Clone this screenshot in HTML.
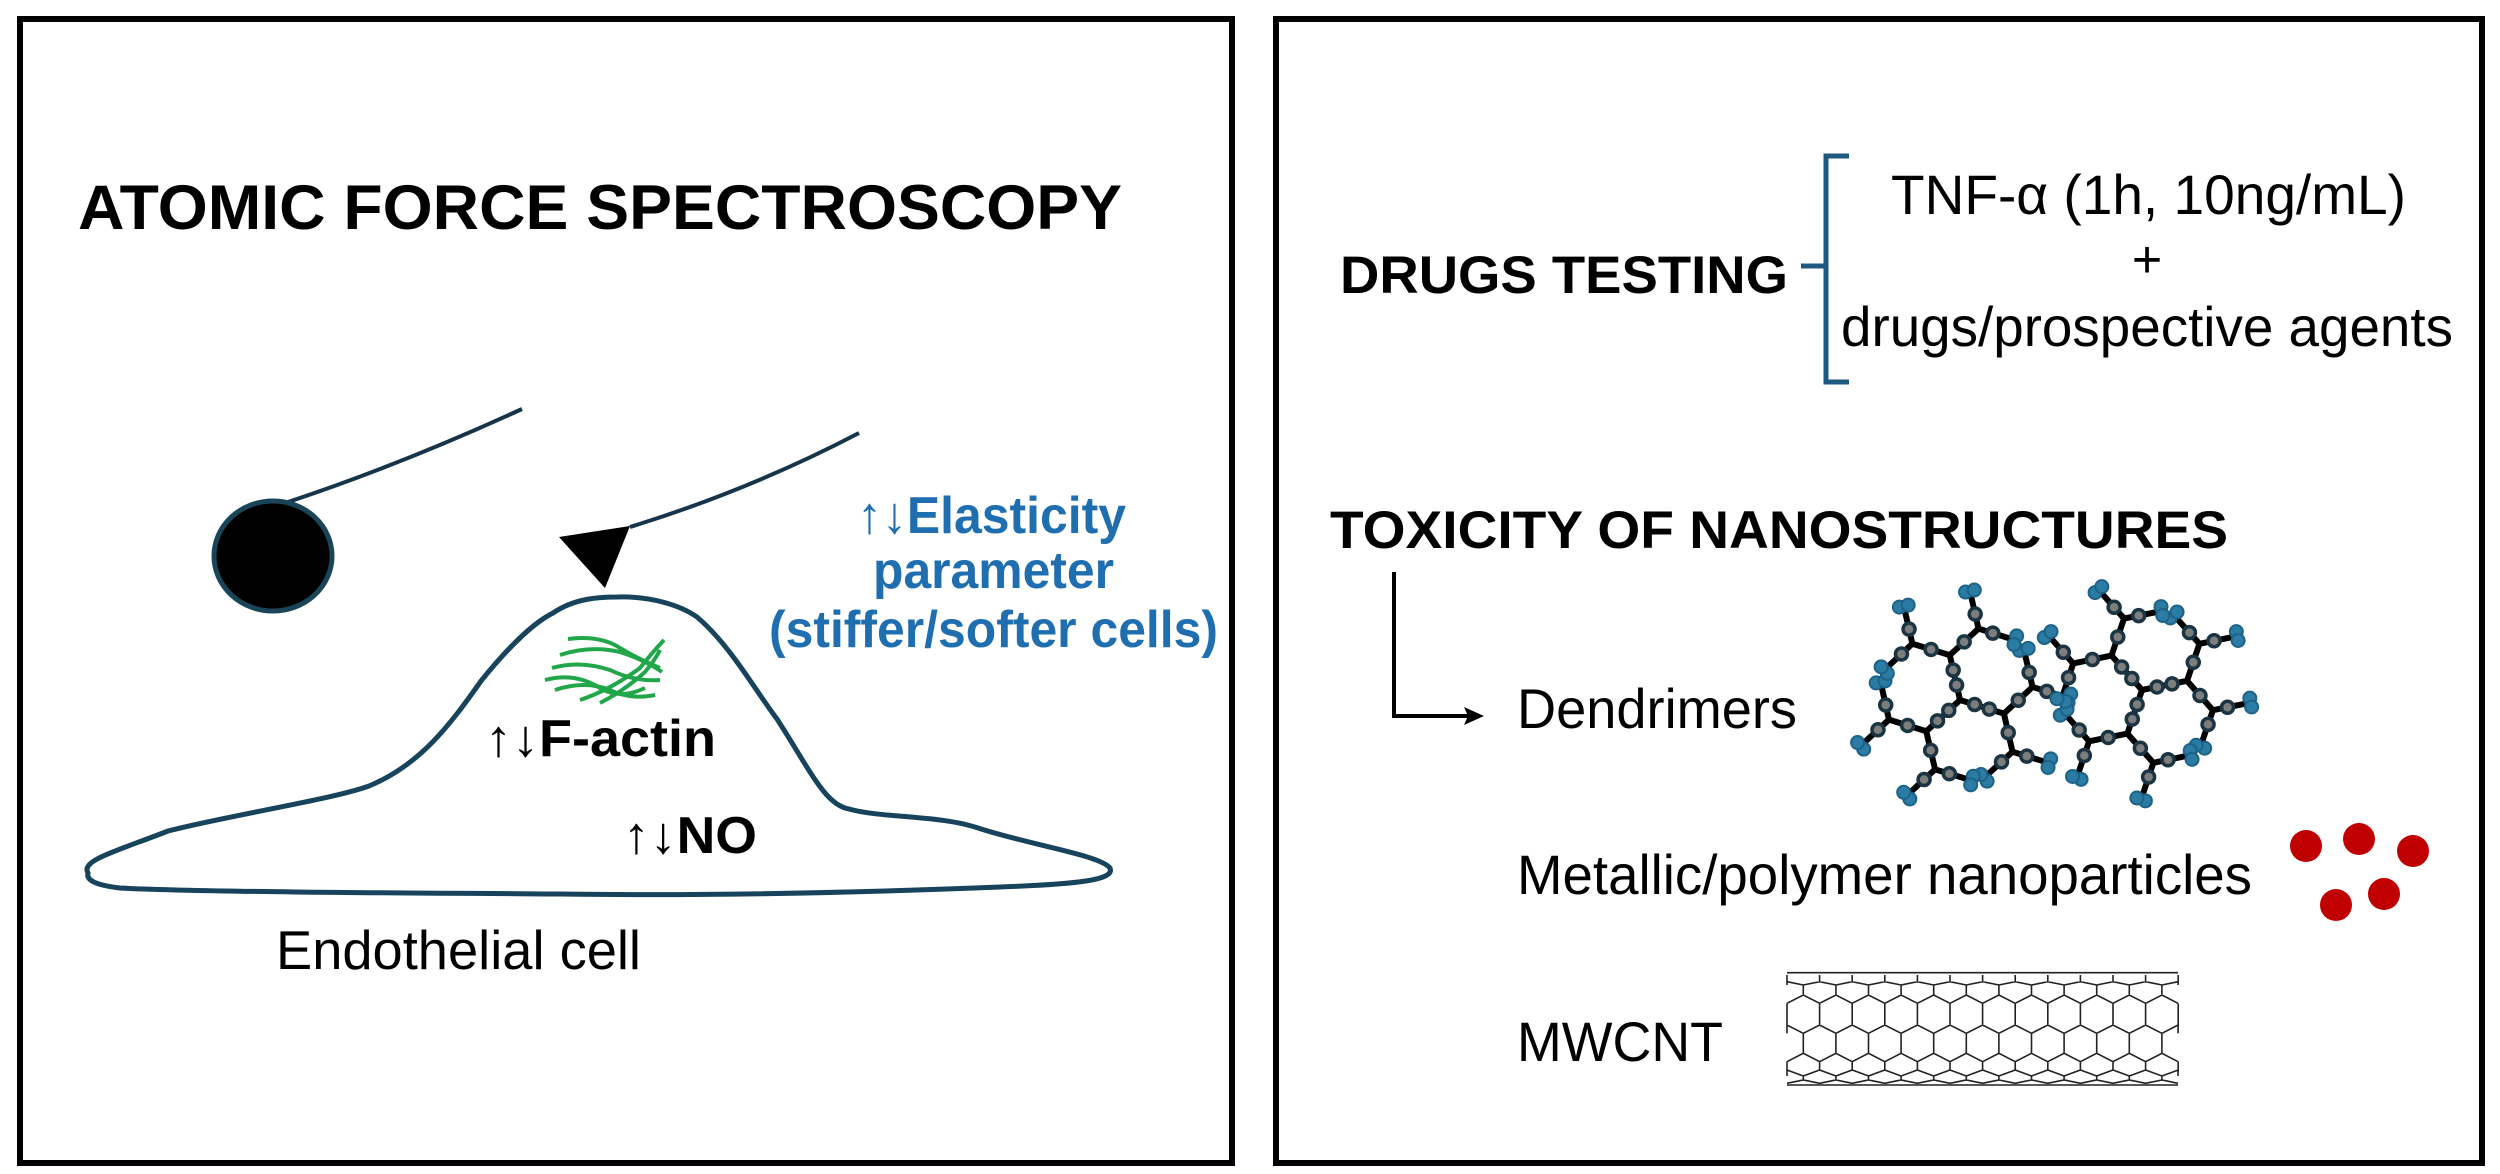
<!DOCTYPE html>
<html><head><meta charset="utf-8"><style>
html,body{margin:0;padding:0;background:#fff;}
svg{display:block;font-family:"Liberation Sans",Arial,sans-serif;}
</style></head><body>
<svg id="s" width="2500" height="1174" viewBox="0 0 2500 1174" xmlns="http://www.w3.org/2000/svg">
<rect x="0" y="0" width="2500" height="1174" fill="#fff"/>
<rect x="20" y="19" width="1212" height="1144" fill="none" stroke="#000" stroke-width="6"/>
<rect x="1276" y="19" width="1206" height="1144" fill="none" stroke="#000" stroke-width="6"/>

<text x="78" y="229" font-size="63" font-weight="bold" textLength="1044" lengthAdjust="spacingAndGlyphs">ATOMIC FORCE SPECTROSCOPY</text>

<path d="M285 503 Q400 465 522 409" fill="none" stroke="#17354a" stroke-width="4"/>
<ellipse cx="273" cy="556" rx="59" ry="55" fill="#000" stroke="#1a4458" stroke-width="5"/>
<path d="M630 527 Q750 490 859 433" fill="none" stroke="#17354a" stroke-width="4"/>
<polygon points="559,537 630,526 605,588" fill="#000"/>

<path d="M88 873 C80 860 120 850 168 831 C230 815 330 800 369 786 C420 765 450 725 481 681 C510 645 535 622 553 613 C575 598 600 597 617 597 C650 596 680 605 697 617 C730 645 755 690 777 719 C810 770 825 805 849 809 C880 818 940 815 978 828 C1030 845 1100 855 1110 868 C1115 880 1080 884 1000 887 C850 893 700 896 561 894 C400 893 200 892 120 888 C95 885 86 880 88 873 Z" fill="none" stroke="#17445c" stroke-width="5"/>

<g fill="none" stroke="#22a64a" stroke-width="4">
<path d="M568 639 Q600 635 620 648 Q640 660 660 668"/>
<path d="M560 655 Q590 645 620 652 Q645 660 662 672"/>
<path d="M552 668 Q580 660 610 670 Q635 682 660 680"/>
<path d="M545 680 Q575 672 600 688 Q620 700 645 688"/>
<path d="M555 690 Q585 680 610 690 Q630 700 655 695"/>
<path d="M580 700 Q610 690 640 668 Q650 655 664 640"/>
<path d="M600 703 Q625 690 645 672 Q655 660 660 650"/>
</g>

<text x="485" y="756" font-size="52" font-weight="bold" textLength="231" lengthAdjust="spacingAndGlyphs"><tspan font-weight="normal">↑↓</tspan>F-actin</text>
<text x="623" y="853" font-size="52" font-weight="bold" textLength="134" lengthAdjust="spacingAndGlyphs"><tspan font-weight="normal">↑↓</tspan>NO</text>
<text x="276" y="969" font-size="55" textLength="365" lengthAdjust="spacingAndGlyphs">Endothelial cell</text>

<g fill="#1f6eb0" font-size="52" font-weight="bold">
<text x="857" y="533" textLength="269" lengthAdjust="spacingAndGlyphs"><tspan font-weight="normal">↑↓</tspan>Elasticity</text>
<text x="873" y="588" textLength="241" lengthAdjust="spacingAndGlyphs">parameter</text>
<text x="769" y="647" textLength="449" lengthAdjust="spacingAndGlyphs">(stiffer/softer cells)</text>
</g>

<text x="1340" y="293" font-size="53" font-weight="bold" textLength="448" lengthAdjust="spacingAndGlyphs">DRUGS TESTING</text>
<path d="M1849 156 L1826 156 L1826 382 L1849 382 M1826 266 L1801 266" fill="none" stroke="#1e5a80" stroke-width="5"/>
<text x="1891" y="214" font-size="56" textLength="515" lengthAdjust="spacingAndGlyphs">TNF-α (1h, 10ng/mL)</text>
<text x="2147" y="277" font-size="52" text-anchor="middle">+</text>
<text x="1841" y="346" font-size="56" textLength="612" lengthAdjust="spacingAndGlyphs">drugs/prospective agents</text>

<text x="1330" y="548" font-size="53" font-weight="bold" textLength="898" lengthAdjust="spacingAndGlyphs">TOXICITY OF NANOSTRUCTURES</text>
<path d="M1394 572 L1394 716 L1470 716" fill="none" stroke="#000" stroke-width="4"/>
<polygon points="1484,716 1464,707 1468,716 1464,725" fill="#000"/>
<text x="1517" y="728" font-size="56" textLength="280" lengthAdjust="spacingAndGlyphs">Dendrimers</text>
<text x="1517" y="894" font-size="56" textLength="735" lengthAdjust="spacingAndGlyphs">Metallic/polymer nanoparticles</text>
<text x="1517" y="1061" font-size="56" textLength="206" lengthAdjust="spacingAndGlyphs">MWCNT</text>

<g fill="#c00000">
<circle cx="2306" cy="846" r="16"/><circle cx="2359" cy="839" r="16"/><circle cx="2413" cy="851" r="16"/>
<circle cx="2336" cy="905" r="16"/><circle cx="2384" cy="894" r="16"/>
</g>

<g id="dend"></g>
<g id="tube" fill="none" stroke="#222" stroke-width="1.6"></g>
</svg>
<script>
(function(){
var NS="http://www.w3.org/2000/svg";
function el(p,t,a){var e=document.createElementNS(NS,t);for(var k in a)e.setAttribute(k,a[k]);p.appendChild(e);return e;}
var dg=document.getElementById('dend');
var bonds=el(dg,'g',{stroke:'#000','stroke-width':6,fill:'none'});
var nodes=el(dg,'g',{});
function node(x,y){el(nodes,'circle',{cx:x,cy:y,r:6,fill:'#7d7d7d',stroke:'#1b3442','stroke-width':3.5});}
function term(x,y,a){
  for(var i=-1;i<=1;i+=2){var b=a+i*0.7;var tx=x+Math.cos(b)*7,ty=y+Math.sin(b)*7;
  el(nodes,'circle',{cx:tx,cy:ty,r:6.5,fill:'#2b7ba3',stroke:'#1d6288','stroke-width':2});}
}
function branch(x,y,a,len,gen,nn){
  var ex=x+Math.cos(a)*len,ey=y+Math.sin(a)*len;
  el(bonds,'line',{x1:x,y1:y,x2:ex,y2:ey});
  if(gen===0){node(x+(ex-x)*0.45,y+(ey-y)*0.45);term(ex,ey,a);return;}
  for(var i=1;i<=nn;i++){var f=i/(nn+1);node(x+(ex-x)*f,y+(ey-y)*f);}
  branch(ex,ey,a-1.05,len*0.85,gen-1,1);
  branch(ex,ey,a+1.05,len*0.85,gen-1,1);
}
function dend(cx,cy,a0){
  for(var k=0;k<3;k++){branch(cx,cy,a0+k*2.094,46,2,2);}
}
dend(1960,700,0.3);
dend(2142,690,-0.2);
var tg=document.getElementById('tube');
var x0=1787,x1=2178,w=32.6,d='';
function Y(z){return 970+z/3;}
d+='M'+x0+' '+Y(8)+'H'+x1+'M'+x0+' '+Y(345)+'H'+x1;
var segs=[['V','A',15,35],['Z','A',35,45],['V','B',45,75],['Z','B',75,100],['V','A',100,165],['Z','A',165,190],['V','B',190,250],['Z','B',250,275],['V','A',275,300],['Z','A',300,318],['V','B',318,330],['Z','B',330,340]];
segs.forEach(function(s){
  var off=s[1]=='A'?0:w/2;
  for(var k=-1;k<=13;k++){
    var x=x0+off+k*w; if(x<x0-1||x>x1+1) continue;
    if(s[0]=='V'){d+='M'+x+' '+Y(s[2])+'V'+Y(s[3]);}
    else{
      var xa=Math.max(x0,x-w/2),xb=Math.min(x1,x+w/2);
      d+='M'+xa+' '+Y(s[3])+'L'+x+' '+Y(s[2])+'L'+xb+' '+Y(s[3]);
    }
  }
});
el(tg,'path',{d:d});
})();
</script>
</body></html>
